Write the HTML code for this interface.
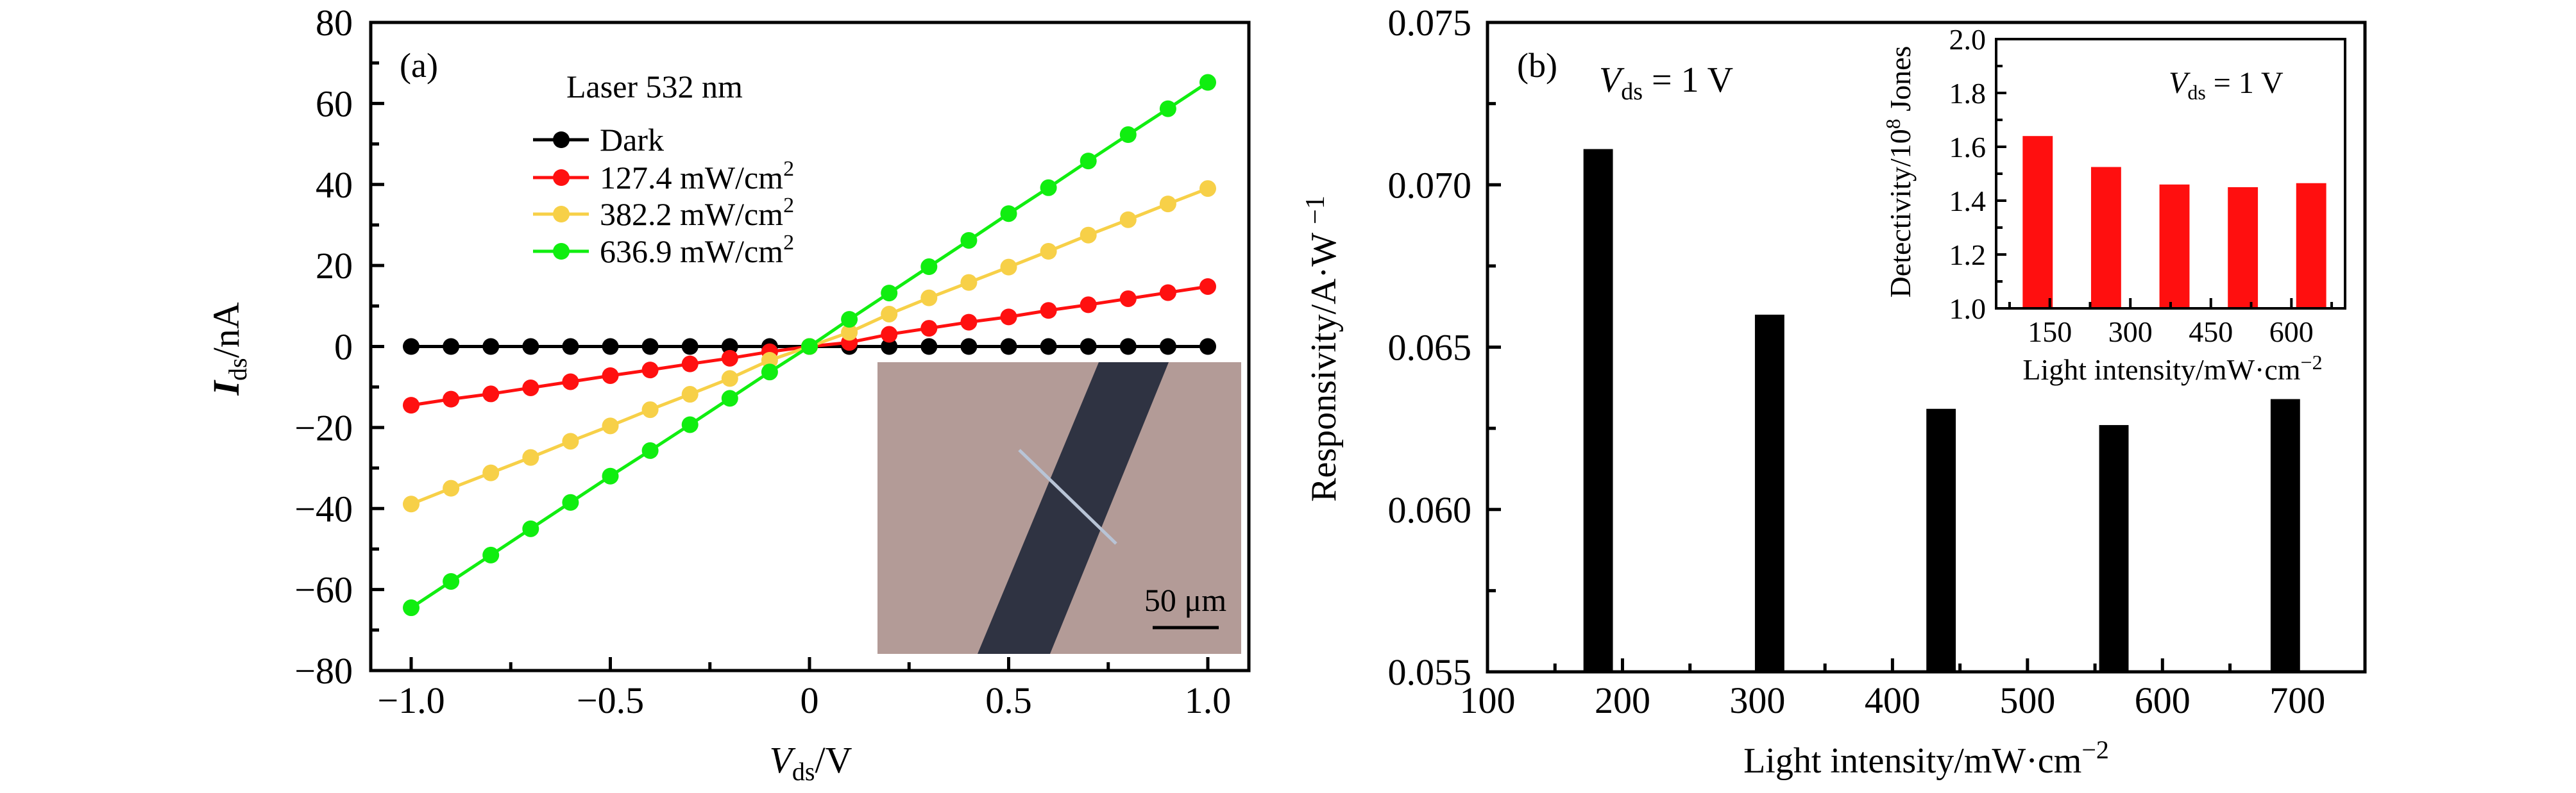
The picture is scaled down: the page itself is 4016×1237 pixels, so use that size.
<!DOCTYPE html>
<html><head><meta charset="utf-8"><style>
html,body{margin:0;padding:0;background:#fff;}
svg{display:block;}
svg text{font-family:"Liberation Serif","DejaVu Serif",serif;}
</style></head><body>
<svg id="fig" width="4016" height="1237" viewBox="0 0 4016 1237" xmlns="http://www.w3.org/2000/svg" font-family="Liberation Serif, DejaVu Serif, serif">
<g id="pa"></g>
<g id="pb"></g>
</svg>
<script>
// ---- Panel (a) data ----
const vds = [-1,-0.9,-0.8,-0.7,-0.6,-0.5,-0.4,-0.3,-0.2,-0.1,0,0.1,0.2,0.3,0.4,0.5,0.6,0.7,0.8,0.9,1.0];
const darkI = [0,0,0,0,0,0,0,0,0,0,0,0,0,0,0,0,0,0,0,0,0];
const redI = [-14.5,-13,-11.7,-10.2,-8.7,-7.2,-5.8,-4.3,-2.9,-1.3,0,1,3,4.5,6,7.3,8.9,10.3,11.8,13.3,14.8];
const yellowI = [-38.9,-35,-31.2,-27.4,-23.4,-19.6,-15.6,-11.8,-7.9,-3.4,0,3.5,8,12,15.8,19.6,23.5,27.5,31.3,35.2,39];
const greenI = [-64.5,-58,-51.5,-45,-38.5,-32,-25.7,-19.3,-12.8,-6.3,0,6.7,13.2,19.7,26.2,32.8,39.2,45.8,52.3,58.7,65.2];
const seriesNames = ["Dark","127.4 mW/cm","382.2 mW/cm","636.9 mW/cm"];
const aYTicks = [80,60,40,20,0,-20,-40,-60,-80];
const aXTicks = [-1.0,-0.5,0,0.5,1.0];
const aXTickLabels = ["\u22121.0","\u22120.5","0","0.5","1.0"];
// ---- Panel (b) data ----
const bIntensity = [182,309,436,564,691];
const bResp = [0.0711,0.0660,0.0631,0.0626,0.0634];
const bYTicks = [0.075,0.070,0.065,0.060,0.055];
const bXTicks = [100,200,300,400,500,600,700];
const insIntensity = [127.4,254.8,382.2,509.6,636.9];
const insDet = [1.64,1.525,1.46,1.45,1.465];
const insYTicks = [1.0,1.2,1.4,1.6,1.8,2.0];
const insXTicks = [150,300,450,600];

const NS="http://www.w3.org/2000/svg";
function mk(parent,tag,attrs,text){const e=document.createElementNS(NS,tag);for(const k in attrs)e.setAttribute(k,attrs[k]);if(text!==undefined)e.textContent=text;parent.appendChild(e);return e;}

// ===== Panel A =====
const pa=document.getElementById('pa');
const aL=578,aR=1947,aT=35,aB=1046;
const ax=v=>641+(v+1)/2*(1883-641);
const ay=v=>aT+(80-v)/160*(aB-aT);

// inset photo
const photo=mk(pa,'g',{});


mk(photo,'rect',{x:1368,y:565,width:567,height:455,fill:'#b39b97'});
mk(photo,'polygon',{points:'1713,565 1822,565 1637,1020 1524,1020',fill:'#2f3342'});
mk(photo,'line',{x1:1589,y1:702,x2:1740,y2:848,stroke:'#b8c4d6','stroke-width':5});
const sbar=mk(photo,'line',{x1:1797,y1:979,x2:1900,y2:979,stroke:'#000','stroke-width':5});


const sbt=mk(photo,'text',{x:1848,y:953,'font-size':50,'text-anchor':'middle'},'50 \u03bcm');



// series
const cols=['#000000','#ff1010','#f7d048','#10ee10'];
const data=[darkI,redI,yellowI,greenI];
data.forEach((arr,si)=>{
  const g=mk(pa,'g',{});
  
  
  const pts=vds.map((v,i)=>ax(v)+','+ay(arr[i])).join(' ');
  mk(g,'polyline',{points:pts,fill:'none',stroke:cols[si],'stroke-width':5});
  vds.forEach((v,i)=>{
    const c=mk(g,'circle',{cx:ax(v),cy:ay(arr[i]),r:13,fill:cols[si]});
    
    
  });
});

// frame & ticks
mk(pa,'rect',{x:aL,y:aT,width:aR-aL,height:aB-aT,fill:'none',stroke:'#000','stroke-width':5});
for(let v=-80;v<=80;v+=10){const len=(v%20===0)?21:13;mk(pa,'line',{x1:aL,y1:ay(v),x2:aL+len,y2:ay(v),stroke:'#000','stroke-width':5});}
for(let v=-1;v<=1.001;v+=0.25){const major=Math.abs(v*2-Math.round(v*2))<1e-6;mk(pa,'line',{x1:ax(v),y1:aB,x2:ax(v),y2:aB-(major?21:13),stroke:'#000','stroke-width':5});}
aYTicks.forEach(v=>{const t=mk(pa,'text',{x:550,y:ay(v)+20,'font-size':58,'text-anchor':'end'},v<0?'\u2212'+(-v):String(v));});
aXTicks.forEach((v,i)=>{const t=mk(pa,'text',{x:ax(v),y:1112,'font-size':58,'text-anchor':'middle'},aXTickLabels[i]);});
let t=mk(pa,'text',{x:623,y:120,'font-size':54},'(a)');
t=mk(pa,'text',{x:883,y:152,'font-size':50},'Laser 532 nm');
const legY=[218,277,334,392];
seriesNames.forEach((n,i)=>{
  const g=mk(pa,'g',{});
  
  
  mk(g,'line',{x1:831,y1:legY[i],x2:918,y2:legY[i],stroke:cols[i],'stroke-width':5});
  mk(g,'circle',{cx:875,cy:legY[i],r:13,fill:cols[i]});
  const tx=mk(g,'text',{x:935,y:legY[i]+17,'font-size':50},n);
  if(i>0){mk(tx,'tspan',{'font-size':34,dy:-20},'2');}
});
t=mk(pa,'text',{'font-size':58,transform:'translate(372,544) rotate(-90)','text-anchor':'middle'});

mk(t,'tspan',{'font-style':'italic','font-weight':'bold'},'I');mk(t,'tspan',{'font-size':40,dy:12},'ds');mk(t,'tspan',{dy:-12},'/nA');
t=mk(pa,'text',{'font-size':58,x:1264,y:1205,'text-anchor':'middle'});

mk(t,'tspan',{'font-style':'italic'},'V');mk(t,'tspan',{'font-size':40,dy:12},'ds');mk(t,'tspan',{dy:-12},'/V');

// ===== Panel B =====
const pb=document.getElementById('pb');
const bL=2319,bR=3687,bT=35,bB=1048;
const bx=v=>bL+(v-100)/650*(bR-bL);
const by=v=>bT+(0.075-v)/0.02*(bB-bT);
const bw=21.8/650*(bR-bL);
bIntensity.forEach((v,i)=>{const r=mk(pb,'rect',{x:bx(v)-bw/2,y:by(bResp[i]),width:bw,height:bB-by(bResp[i]),fill:'#000'});});
mk(pb,'rect',{x:bL,y:bT,width:bR-bL,height:bB-bT,fill:'none',stroke:'#000','stroke-width':5});
for(let k=0;k<=8;k++){const v=0.055+k*0.0025;const len=(k%2===0)?21:13;mk(pb,'line',{x1:bL,y1:by(v),x2:bL+len,y2:by(v),stroke:'#000','stroke-width':5});}
for(let v=100;v<=750;v+=50){const len=(v%100===0)?21:13;mk(pb,'line',{x1:bx(v),y1:bB,x2:bx(v),y2:bB-len,stroke:'#000','stroke-width':5});}
bYTicks.forEach(v=>{const t=mk(pb,'text',{x:2294,y:by(v)+20,'font-size':58,'text-anchor':'end'},v.toFixed(3));});
bXTicks.forEach(v=>{const t=mk(pb,'text',{x:bx(v),y:1112,'font-size':58,'text-anchor':'middle'},String(v));});
t=mk(pb,'text',{x:2365,y:120,'font-size':54},'(b)');
t=mk(pb,'text',{x:2493,y:143,'font-size':56});
mk(t,'tspan',{'font-style':'italic'},'V');mk(t,'tspan',{'font-size':38,dy:12},'ds');mk(t,'tspan',{dy:-12},' = 1 V');
t=mk(pb,'text',{'font-size':56,transform:'translate(2082,544) rotate(-90)','text-anchor':'middle'});

mk(t,'tspan',{},'Responsivity/A\u00b7W ');mk(t,'tspan',{'font-size':42,dy:-18},'\u22121');
t=mk(pb,'text',{'font-size':56,x:3003,y:1205,'text-anchor':'middle'});

mk(t,'tspan',{},'Light intensity/mW\u00b7cm');mk(t,'tspan',{'font-size':40,dy:-22},'\u22122');

// inset
const ins=mk(pb,'g',{});


const iL=3112,iR=3656,iT=61,iB=481;
const ix=v=>iL+(v-50)/650*(iR-iL);
const iy=v=>iB-(v-1.0)/1.0*(iB-iT);
const iw=56/650*(iR-iL);
insIntensity.forEach((v,i)=>{const r=mk(ins,'rect',{x:ix(v)-iw/2,y:iy(insDet[i]),width:iw,height:iB-iy(insDet[i]),fill:'#ff0f0f'});});
mk(ins,'rect',{x:iL,y:iT,width:iR-iL,height:iB-iT,fill:'none',stroke:'#000','stroke-width':4});
for(let k=0;k<=10;k++){const v=1+k*0.1;mk(ins,'line',{x1:iL,y1:iy(v),x2:iL+(k%2===0?16:10),y2:iy(v),stroke:'#000','stroke-width':4});}
for(let v=75;v<=675;v+=75){mk(ins,'line',{x1:ix(v),y1:iB,x2:ix(v),y2:iB-((v%150===0)?16:10),stroke:'#000','stroke-width':4});}
insYTicks.forEach(v=>{const t=mk(ins,'text',{x:3096,y:iy(v)+16,'font-size':46,'text-anchor':'end'},v.toFixed(1));});
insXTicks.forEach(v=>{const t=mk(ins,'text',{x:ix(v),y:533,'font-size':46,'text-anchor':'middle'},String(v));});
t=mk(ins,'text',{x:3381,y:145,'font-size':48});
mk(t,'tspan',{'font-style':'italic'},'V');mk(t,'tspan',{'font-size':32,dy:10},'ds');mk(t,'tspan',{dy:-10},' = 1 V');
t=mk(ins,'text',{'font-size':46,transform:'translate(2978,268) rotate(-90)','text-anchor':'middle'});

mk(t,'tspan',{},'Detectivity/10');mk(t,'tspan',{'font-size':32,dy:-16},'8');mk(t,'tspan',{dy:16},' Jones');
t=mk(ins,'text',{'font-size':46,x:3387,y:592,'text-anchor':'middle'});

mk(t,'tspan',{},'Light intensity/mW\u00b7cm');mk(t,'tspan',{'font-size':32,dy:-16},'\u22122');
</script>
</body></html>
